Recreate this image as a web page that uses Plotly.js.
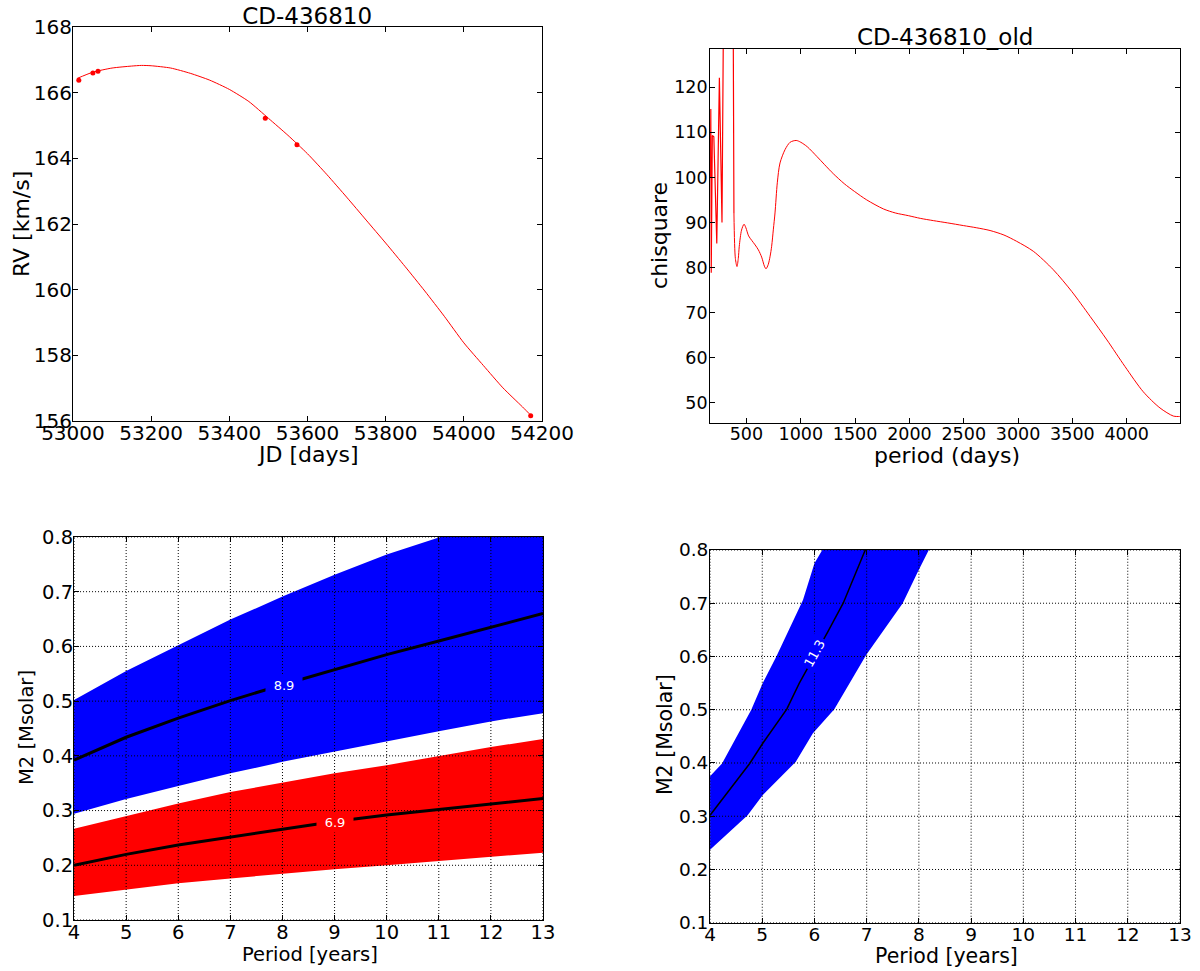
<!DOCTYPE html>
<html><head><meta charset="utf-8">
<script src="https://cdn.plot.ly/plotly-3.0.1.min.js"></script>
<style>html,body{margin:0;padding:0;background:#fff}#chart{width:1200px;height:971px}</style>
</head><body><div id="chart"></div>
<script>
// ---------- Panel 1: RV data and fit ----------
const rvJD  = [53015, 53051, 53064, 53492, 53573, 54171];
const rvVal = [166.38, 166.60, 166.65, 165.22, 164.41, 156.16];
const fitJD = [53010,53050,53100,53150,53175,53200,53250,53300,53350,53400,53450,53500,53550,53600,53650,53700,53750,53800,53850,53900,53950,54000,54050,54100,54150,54175];
const fitRV = [166.43,166.62,166.75,166.81,166.83,166.82,166.75,166.59,166.38,166.10,165.73,165.22,164.70,164.14,163.50,162.82,162.12,161.42,160.70,159.96,159.19,158.38,157.69,157.01,156.43,156.13];
const jdTicks = [53000,53200,53400,53600,53800,54000,54200];
const rvTicks = [156,158,160,162,164,166,168];

// ---------- Panel 2: chi-square periodogram ----------
const chiPeriod = [168,172,176,186,200,227,251,275,300,335,372,385,398,413,425,434,455,478,495,520,549,580,610,640,665,680,700,718,732,748,763,784,809,856,902,958,1000,1060,1150,1220,1300,1400,1493,1607,1760,1870,1990,2100,2220,2350,2496,2620,2742,2870,2987,3140,3324,3493,3664,3818,3984,4152,4306,4429,4484,4490];
const chiValue  = [100,115.2,78.8,109.3,109.0,85.3,122.1,90.0,175,260,175,92,82,80.2,82,84.7,88.3,89.6,88.8,87.0,86.0,85.0,83.9,82.3,80.3,79.7,80.6,82.5,84.7,88.5,92.1,98.8,103.2,106.2,107.8,108.2,107.8,106.8,104.6,102.8,100.8,98.6,96.9,95.0,93.0,92.1,91.5,90.9,90.4,89.9,89.3,88.8,88.2,87.2,85.8,83.6,79.5,74.7,69.1,63.9,58.0,52.4,48.8,47.0,46.9,46.9];
const chiSmoothFrom = 11; // coarse-sampled spikes before this index, smooth curve after
const periodDayTicks = [500,1000,1500,2000,2500,3000,3500,4000];
const chiTicks = [50,60,70,80,90,100,110,120];

// ---------- Panel 3: M2 vs period, two bands ----------
const periodYears = [4,5,6,7,8,9,10,11,12,13];
const blueLow  = [0.294,0.321,0.345,0.368,0.389,0.408,0.427,0.445,0.463,0.478];
const blueHigh = [0.502,0.555,0.602,0.649,0.691,0.731,0.768,0.800,0.830,0.860];
const line89   = [0.392,0.434,0.469,0.501,0.530,0.558,0.585,0.610,0.635,0.660];
const redLow   = [0.144,0.156,0.167,0.176,0.185,0.193,0.200,0.208,0.215,0.223];
const redHigh  = [0.267,0.290,0.313,0.334,0.351,0.368,0.383,0.400,0.416,0.431];
const line69   = [0.200,0.220,0.237,0.252,0.266,0.280,0.292,0.302,0.312,0.322];
const label89 = {text:'8.9', x:8.02, y:0.529};
const label69 = {text:'6.9', x:9.01, y:0.278};

// ---------- Panel 4: M2 vs period, single band ----------
const bandRightX = [4.0,4.72,5.01,5.64,5.97,6.38,6.99,7.69,7.98,8.19,8.30];
const bandRightY = [0.237,0.302,0.340,0.402,0.456,0.501,0.603,0.700,0.759,0.800,0.830];
const bandLeftX  = [4.0,4.23,4.79,5.01,5.27,5.78,6.0,6.15,6.25];
const bandLeftY  = [0.375,0.399,0.500,0.550,0.600,0.706,0.775,0.800,0.830];
const line113X = [4.0,4.76,5.01,5.47,5.71,6.0,6.26,6.55,6.99,7.10];
const line113Y = [0.302,0.399,0.437,0.501,0.550,0.600,0.647,0.700,0.800,0.830];
const label113 = {text:'11.3', x:6.0, y:0.606};

const yearTicks = [4,5,6,7,8,9,10,11,12,13];
const m2Ticks = [0.1,0.2,0.3,0.4,0.5,0.6,0.7,0.8];

const FONT = 'DejaVu Sans, sans-serif';
const BLUE = '#0000ff', RED = '#ff0000';

const traces = [
  {x: fitJD, y: fitRV, xaxis:'x', yaxis:'y', mode:'lines', line:{color:RED, width:1, shape:'spline', smoothing:0.6}},
  {x: rvJD, y: rvVal, xaxis:'x', yaxis:'y', mode:'markers', marker:{color:RED, size:5},
   error_x:{type:'constant', value:5, color:RED, thickness:1.5, width:0}},
  {x: chiPeriod.slice(0, chiSmoothFrom+1), y: chiValue.slice(0, chiSmoothFrom+1), xaxis:'x2', yaxis:'y2', mode:'lines', line:{color:RED, width:1.2}},
  {x: chiPeriod.slice(chiSmoothFrom), y: chiValue.slice(chiSmoothFrom), xaxis:'x2', yaxis:'y2', mode:'lines', line:{color:RED, width:1, shape:'spline', smoothing:0.8}},
  {x: periodYears, y: blueLow, xaxis:'x3', yaxis:'y3', mode:'lines', line:{width:0, color:BLUE}},
  {x: periodYears, y: blueHigh, xaxis:'x3', yaxis:'y3', mode:'lines', line:{width:0, color:BLUE}, fill:'tonexty', fillcolor:BLUE},
  {x: periodYears, y: redLow, xaxis:'x3', yaxis:'y3', mode:'lines', line:{width:0, color:RED}},
  {x: periodYears, y: redHigh, xaxis:'x3', yaxis:'y3', mode:'lines', line:{width:0, color:RED}, fill:'tonexty', fillcolor:RED},
  {x: periodYears, y: line89, xaxis:'x3', yaxis:'y3', mode:'lines', line:{color:'#000', width:3}},
  {x: periodYears, y: line69, xaxis:'x3', yaxis:'y3', mode:'lines', line:{color:'#000', width:3}},
  {x: bandRightX.concat(bandLeftX.slice().reverse()), y: bandRightY.concat(bandLeftY.slice().reverse()),
   xaxis:'x4', yaxis:'y4', mode:'lines', line:{width:0, color:BLUE}, fill:'toself', fillcolor:BLUE},
  {x: line113X, y: line113Y, xaxis:'x4', yaxis:'y4', mode:'lines', line:{color:'#000', width:1.5}}
];

function ax(extra){
  return Object.assign({
    showline:true, linecolor:'#000', linewidth:1, mirror:'ticks', ticks:'inside', ticklen:5,
    tickcolor:'#000', tickwidth:1, showgrid:false, zeroline:false, fixedrange:true,
    tickfont:{family:FONT, size:19, color:'#000'}
  }, extra);
}
function tf(s){ return {family:FONT, size:s, color:'#000'}; }
function atitle(text, x, y, size, vertical){
  return {text:text, xref:'paper', yref:'paper', x:x, y:y, xanchor:'center', yanchor:'middle',
          showarrow:false, textangle: vertical ? -90 : 0, font:tf(size)};
}

const layout = {
  width:1200, height:971, margin:{l:0,r:0,t:0,b:0}, showlegend:false,
  paper_bgcolor:'#fff', plot_bgcolor:'#fff', font:{family:FONT, color:'#000'},
  title:{text:'CD-436810', font:tf(23), x:0.256, xanchor:'center', y:0.984, yanchor:'middle'},
  xaxis: ax({domain:[0.0608,0.4517], anchor:'y', range:[53000,54200], tickvals:jdTicks, tickformat:'d', tickfont:tf(20), ticklabelstandoff:-6}),
  yaxis: ax({domain:[0.5664,0.9722], anchor:'x', range:[156,168], tickvals:rvTicks, tickfont:tf(20), ticklabelstandoff:-4}),
  xaxis2: ax({domain:[0.5917,0.9833], anchor:'y2', range:[165,4490], tickvals:periodDayTicks, tickfont:tf(17.5), ticklabelstandoff:-5}),
  yaxis2: ax({domain:[0.5641,0.9495], anchor:'x2', range:[45.4,128.5], tickvals:chiTicks, tickfont:tf(17.5), ticklabelstandoff:-2}),
  xaxis3: ax({domain:[0.0617,0.4525], anchor:'y3', range:[4,13], tickvals:yearTicks, tickfont:tf(19.5), ticklabelstandoff:-5}),
  yaxis3: ax({domain:[0.0525,0.4470], anchor:'x3', range:[0.1,0.8], tickvals:m2Ticks, tickformat:'.1f', tickfont:tf(19.5), ticklabelstandoff:-4}),
  xaxis4: ax({domain:[0.5917,0.9833], anchor:'y4', range:[4,13], tickvals:yearTicks, tickfont:tf(18.5), ticklabelstandoff:-5}),
  yaxis4: ax({domain:[0.0497,0.4336], anchor:'x4', range:[0.1,0.8], tickvals:m2Ticks, tickformat:'.1f', tickfont:tf(18.5), ticklabelstandoff:-3}),
  annotations:[
    {text:'CD-436810_old', xref:'paper', yref:'paper', x:0.7875, y:0.962, xanchor:'center', yanchor:'middle', showarrow:false, font:tf(23)},
    atitle('JD [days]', 0.2567, 0.5324, 22, false),
    atitle('RV [km/s]', 0.0175, 0.7693, 22, true),
    atitle('period (days)', 0.789, 0.5304, 22, false),
    atitle('chisquare', 0.550, 0.757, 22, true),
    atitle('Period [years]', 0.2583, 0.0170, 19.5, false),
    atitle('M2 [Msolar]', 0.0225, 0.2503, 19.5, true),
    atitle('Period [years]', 0.789, 0.0150, 20.5, false),
    atitle('M2 [Msolar]', 0.5542, 0.2430, 20.5, true),
    {text:label89.text, x:label89.x, y:label89.y, xref:'x3', yref:'y3', showarrow:false, bgcolor:BLUE, borderpad:2, width:32, font:tf(13)},
    {text:label69.text, x:label69.x, y:label69.y, xref:'x3', yref:'y3', showarrow:false, bgcolor:RED, borderpad:2, width:32, font:tf(13)},
    {text:label113.text, x:label113.x, y:label113.y, xref:'x4', yref:'y4', showarrow:false, bgcolor:BLUE, borderpad:2, textangle:-61, font:tf(13)}
  ],
  shapes:[]
};
// white contour-label text
[9,10,11].forEach(function(i){ layout.annotations[i].font = {family:FONT, size:13, color:'#fff'}; });

// dotted grid drawn above the filled bands (as in the original)
[['x3','y3'],['x4','y4']].forEach(function(p){
  yearTicks.forEach(function(t){
    layout.shapes.push({type:'line', layer:'above', xref:p[0], yref:p[1]+' domain', x0:t, x1:t, y0:0, y1:1,
      line:{color:'#000', width:1, dash:'1px,2px'}});
  });
  m2Ticks.forEach(function(t){
    layout.shapes.push({type:'line', layer:'above', xref:p[0]+' domain', yref:p[1], x0:0, x1:1, y0:t, y1:t,
      line:{color:'#000', width:1, dash:'1px,2px'}});
  });
});

Plotly.newPlot('chart', traces, layout, {staticPlot:true, displayModeBar:false});
</script></body></html>
